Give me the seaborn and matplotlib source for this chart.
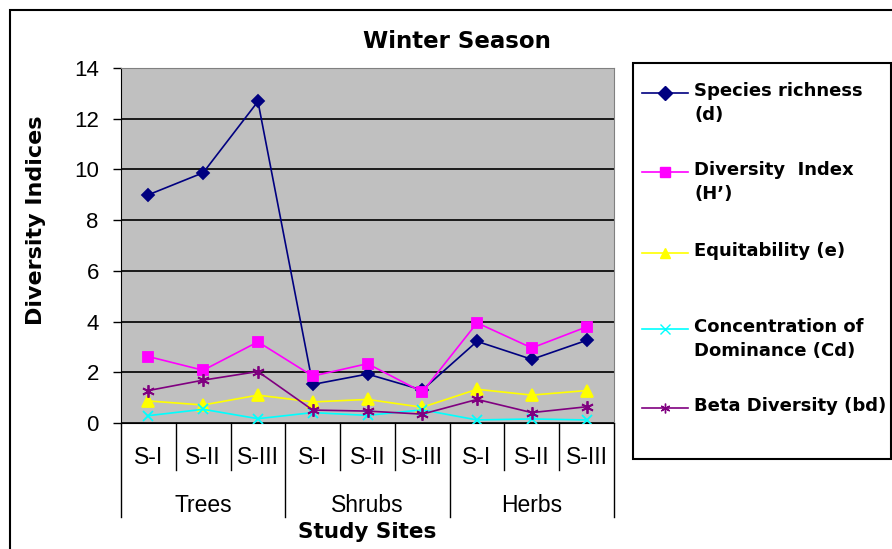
import numpy as np
import matplotlib
matplotlib.use("Agg")
import matplotlib.pyplot as plt
from matplotlib.lines import Line2D
from matplotlib.patches import Rectangle
import seaborn as sns

groups = ["Trees", "Shrubs", "Herbs"]
sites = ["S-I", "S-II", "S-III"]

species_richness = [9.0, 9.87, 12.68, 1.52, 1.93, 1.30, 3.22, 2.51, 3.26]
diversity_index = [2.62, 2.08, 3.20, 1.85, 2.34, 1.22, 3.95, 2.96, 3.79]
equitability = [0.87, 0.71, 1.10, 0.83, 0.93, 0.62, 1.33, 1.10, 1.28]
dominance = [0.29, 0.54, 0.17, 0.41, 0.30, 0.52, 0.12, 0.16, 0.12]
beta_diversity = [1.28, 1.69, 2.03, 0.51, 0.47, 0.35, 0.93, 0.41, 0.64]

series_labels = ["Species richness\n(d)", "Diversity  Index\n(H\u2019)", "Equitability (e)",
                 "Concentration of\nDominance (Cd)", "Beta Diversity (bd)"]
series_values = [species_richness, diversity_index, equitability, dominance, beta_diversity]
colors = ["#000080", "#FF00FF", "#FFFF00", "#00FFFF", "#800080"]
markers = ["D", "s", "^", "x", (6, 2, 0)]
msizes = [6.5, 7.5, 8.5, 7, 9]

plt.rcParams["font.family"] = ["Liberation Sans", "DejaVu Sans"]
bold = dict(family="DejaVu Sans", weight="bold")

fig = plt.figure(figsize=(8.92, 5.49), dpi=100)
ax = fig.add_axes([121 / 892, 1 - 423 / 549, 493 / 892, 355 / 549])
ax.set_facecolor("#C0C0C0")

pos = np.arange(len(groups) * len(sites))
for vals, c, m, ms in zip(series_values, colors, markers, msizes):
    sns.lineplot(x=pos, y=vals, ax=ax, color=c, marker=m, markersize=ms,
                 markeredgecolor=c, markeredgewidth=1.3, linewidth=1.2, legend=False, zorder=3)

ax.set_xlim(-0.5, len(pos) - 0.5)
ax.set_ylim(0, 14)
ax.set_yticks(range(0, 15, 2))
ax.yaxis.grid(True, color="#1a1a1a", linewidth=1.4)
ax.set_axisbelow(True)
ax.tick_params(axis="y", direction="out", length=6, width=1, pad=10, labelsize=16)
ax.set_xticks([])
ax.set_xlabel("")
ax.set_ylabel("Diversity Indices", fontsize=16, **bold)
ax.yaxis.set_label_coords(-0.152, 0.572)

for s in ["top", "right"]:
    ax.spines[s].set_color("#808080")
ax.spines["left"].set_color("black")
ax.spines["bottom"].set_color("black")

xt = ax.get_xaxis_transform()
for i, p in enumerate(pos):
    ax.text(p, -0.096, sites[i % 3], transform=xt, ha="center", va="center", fontsize=16.5)
for gi, g in enumerate(groups):
    ax.text(gi * 3 + 1, -0.231, g, transform=xt, ha="center", va="center", fontsize=16.5)
for b in np.arange(-0.5, len(pos), 1):
    depth = -0.265 if (b + 0.5) % 3 == 0 else -0.132
    ax.plot([b, b], [0, depth], transform=xt, clip_on=False, color="black", lw=1)
ax.text(4, -0.307, "Study Sites", transform=xt, ha="center", va="center", fontsize=15.5, **bold)

fig.text(457 / 892, 1 - 42 / 549, "Winter Season", ha="center", va="center", fontsize=16.5, **bold)

# outer chart frame and legend box
fig.patches.append(Rectangle((10 / 892, -0.05), 1.2, 1 - 10 / 549 + 0.05, fill=False,
                             lw=1.5, ec="black", transform=fig.transFigure))
fig.patches.append(Rectangle((633 / 892, 1 - 459 / 549), 258 / 892, 396 / 549, fill=False,
                             lw=1.5, ec="black", transform=fig.transFigure))

leg_y = [93, 172, 253, 329, 408]
for lbl, c, m, y in zip(series_labels, colors, markers, leg_y):
    yy = 1 - y / 549
    fig.lines.append(Line2D([642 / 892, 665 / 892, 688 / 892], [yy, yy, yy], color=c, lw=1.2,
                            marker=m, markevery=[1], markersize=7, markeredgecolor=c,
                            transform=fig.transFigure))
    fig.text(694 / 892, 1 - (y - 11) / 549, lbl, ha="left", va="top", fontsize=13,
             linespacing=1.4, **bold)

fig.savefig("out.png", dpi=100)
